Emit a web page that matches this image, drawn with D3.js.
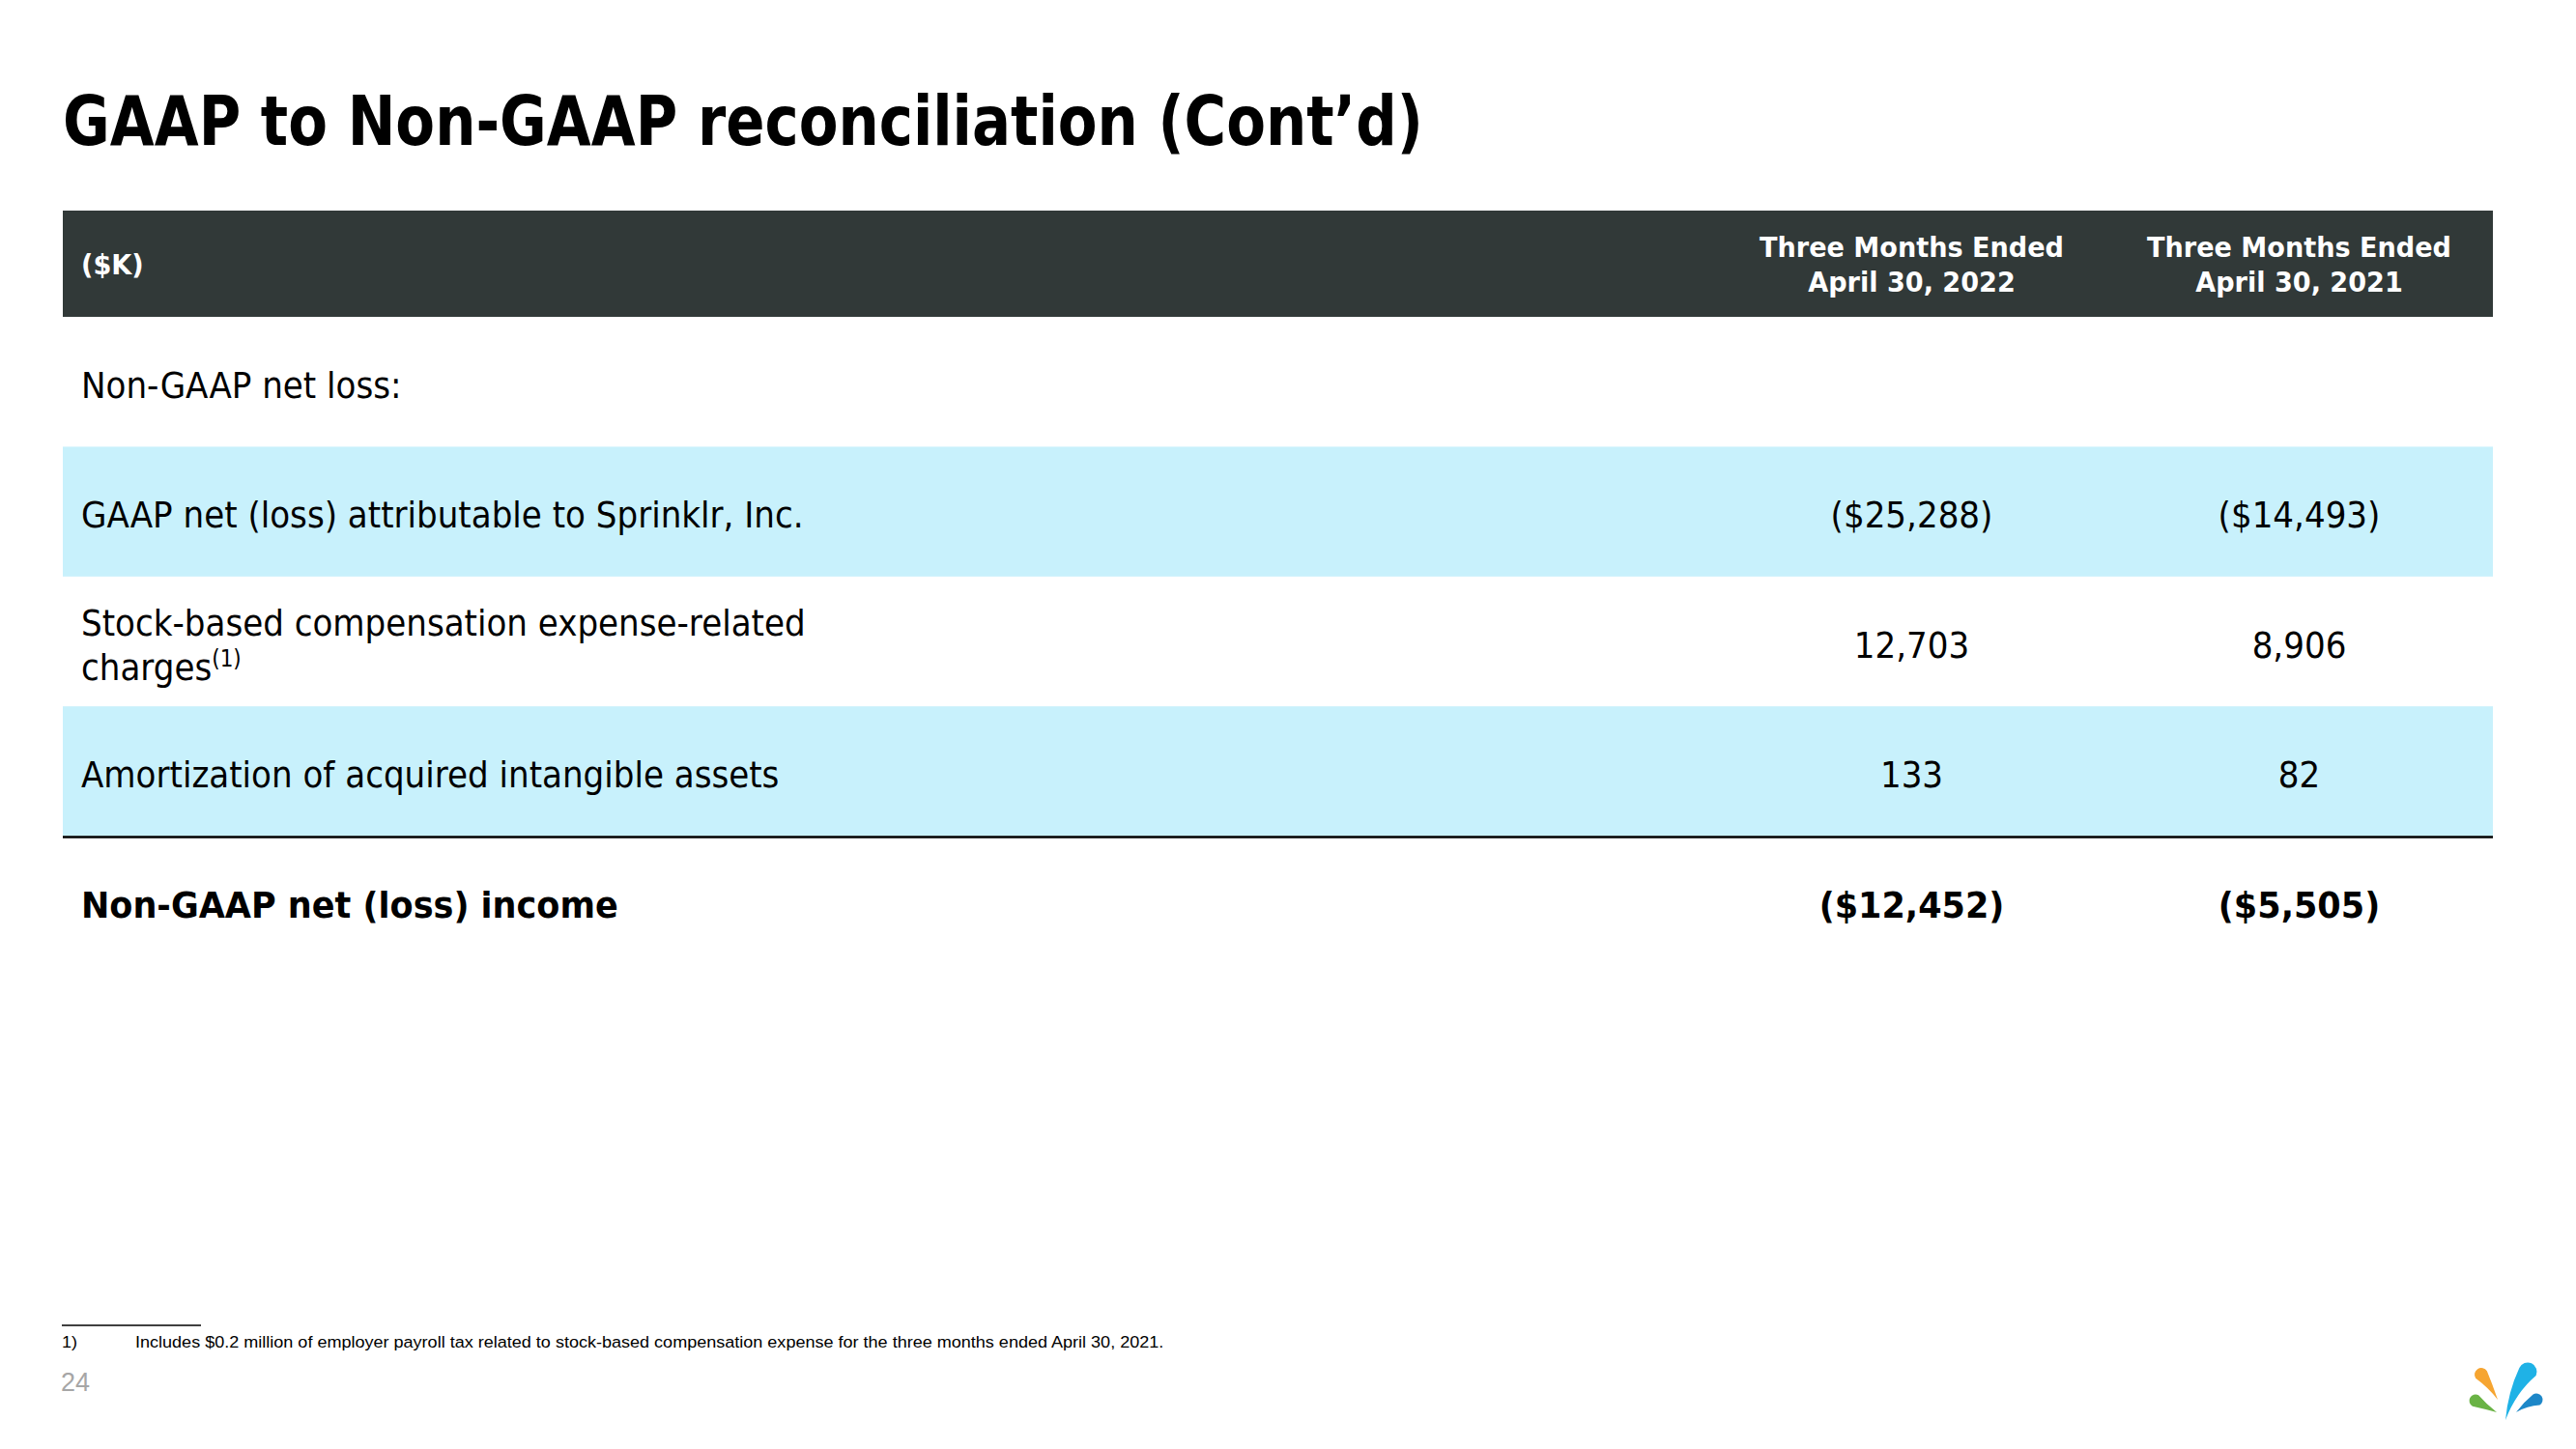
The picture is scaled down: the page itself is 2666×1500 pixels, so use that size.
<!DOCTYPE html>
<html>
<head>
<meta charset="utf-8">
<script src="https://cdn.jsdelivr.net/npm/d3@7"></script>
<style>
html,body{margin:0;padding:0;background:#fff;}
svg{display:block;}
</style>
</head>
<body>
<svg id="chart" width="2666" height="1500"></svg>
<script>
// ---- data ----
const title = "GAAP to Non-GAAP reconciliation (Cont’d)";
const unitLabel = "($K)";
const periods = ["2022", "2021"];
const periodHeaders = [["Three Months Ended", "April 30, 2022"], ["Three Months Ended", "April 30, 2021"]];
const rowLabels = [
  ["Non-GAAP net loss:"],
  ["GAAP net (loss) attributable to Sprinklr, Inc."],
  ["Stock-based compensation expense-related", "charges"],
  ["Amortization of acquired intangible assets"],
  ["Non-GAAP net (loss) income"]
];
const rowSup = [null, null, "(1)", null, null];
const rowShaded = [false, true, false, true, false];
const rowBold = [false, false, false, false, true];
const values2022 = [null, -25288, 12703, 133, -12452];
const values2021 = [null, -14493, 8906, 82, -5505];
const footnoteNum = "1)";
const footnoteText = "Includes $0.2 million of employer payroll tax related to stock-based compensation expense for the three months ended April 30, 2021.";
const pageNumber = "24";

// ---- setup ----
const svg = d3.select("#chart");
svg.append("rect").attr("width", 2666).attr("height", 1500).attr("fill", "#fff");

const FONT = "'DejaVu Sans', Verdana, sans-serif";
const NARROW = "'Liberation Sans Narrow', 'Liberation Sans', Arial, sans-serif";

function measure(text, size, weight, family) {
  const t = svg.append("text").attr("font-family", family).attr("font-size", size)
    .attr("font-weight", weight).text(text);
  const w = t.node().getComputedTextLength();
  t.remove();
  return w;
}
const BODY = 38;
const sqTitle = 1408 / measure(title, 72, "bold", FONT);
const sqBody = 748 / measure(rowLabels[1][0], BODY, "normal", FONT);
const sqBold = 556 / measure(rowLabels[4][0], BODY, "bold", FONT);
const sqHead = 315 / measure(periodHeaders[0][0], 28, "bold", FONT);
const sqFoot = 1065 / measure(footnoteText, 17, "normal", NARROW);

function addText(g, str, x, cy, size, weight, sq, anchor, fill, family, capRatio) {
  const base = cy + (capRatio || 0.365) * size;
  return g.append("text")
    .attr("transform", `translate(${x},${base}) scale(${sq},1)`)
    .attr("font-family", family || FONT)
    .attr("font-size", size)
    .attr("font-weight", weight)
    .attr("text-anchor", anchor || "start")
    .attr("fill", fill || "#000")
    .text(str);
}

// ---- scales ----
const tableLeft = 65, tableRight = 2580;
const y = d3.scaleBand().domain(d3.range(rowLabels.length)).range([328, 1000]).padding(0);
const x = d3.scaleBand().domain(periods).range([1778, 2580]).padding(0);
const labelX = 84;

// title
addText(svg, title, 65, 123.5, 72, "bold", sqTitle, "start", "#000");

// header bar
svg.append("rect").attr("x", tableLeft).attr("y", 218).attr("width", tableRight - tableLeft)
  .attr("height", 110).attr("fill", "#313938");
addText(svg, unitLabel, labelX, 274, 28, "bold", sqHead, "start", "#fff");
periods.forEach((p, i) => {
  const cx = x(p) + x.bandwidth() / 2;
  periodHeaders[i].forEach((line, j) => {
    addText(svg, line, cx, 256 + j * 36, 28, "bold", sqHead, "middle", "#fff");
  });
});

// row backgrounds
svg.append("g").selectAll("rect")
  .data(d3.range(rowLabels.length).filter(i => rowShaded[i]))
  .join("rect")
  .attr("x", tableLeft).attr("width", tableRight - tableLeft)
  .attr("y", i => y(i)).attr("height", y.bandwidth())
  .attr("fill", "#c8f1fc");

// total line
const totalIdx = rowBold.indexOf(true);
svg.append("line").attr("x1", tableLeft).attr("x2", tableRight)
  .attr("y1", y(totalIdx) + 1).attr("y2", y(totalIdx) + 1)
  .attr("stroke", "#000").attr("stroke-width", 2.5);

// labels and values
const fmtNum = d3.format(",");
function fmt(v) {
  if (v == null) return "";
  return v < 0 ? `($${fmtNum(-v)})` : fmtNum(v);
}
const rowsG = svg.append("g");
rowLabels.forEach((lines, i) => {
  const cy = y(i) + y.bandwidth() / 2 + 3;
  const bold = rowBold[i];
  const sq = bold ? sqBold : sqBody;
  const w = bold ? "bold" : "normal";
  const lh = 46;
  lines.forEach((line, j) => {
    const ly = cy + (j - (lines.length - 1) / 2) * lh;
    const t = addText(rowsG, line, labelX, ly, BODY, w, sq, "start", "#000");
    if (j === lines.length - 1 && rowSup[i]) {
      t.append("tspan").attr("font-size", 24).attr("dy", -14).text(rowSup[i]);
    }
  });
  [values2022[i], values2021[i]].forEach((v, k) => {
    if (v == null) return;
    const cx = x(periods[k]) + x.bandwidth() / 2;
    addText(rowsG, fmt(v), cx, cy, BODY, w, sq, "middle", "#000");
  });
});

// footnote
svg.append("line").attr("x1", 64).attr("x2", 208).attr("y1", 1372).attr("y2", 1372)
  .attr("stroke", "#000").attr("stroke-width", 1.3);
addText(svg, footnoteNum, 64, 1389, 17, "normal", sqFoot, "start", "#000", NARROW, 0.358);
addText(svg, footnoteText, 140, 1389, 17, "normal", sqFoot, "start", "#000", NARROW, 0.358);

// page number
addText(svg, pageNumber, 63, 1430, 27, "normal", 1, "start", "#a6a6a6", NARROW, 0.358);

// logo (droplets)
function drop(g, tx, ty, hx, hy, r, bend, color) {
  const dx = hx - tx, dy = hy - ty;
  const L = Math.sqrt(dx * dx + dy * dy);
  const ang = Math.atan2(dy, dx) * 180 / Math.PI;
  const p = d3.path();
  p.moveTo(0, 0);
  p.quadraticCurveTo(L * 0.55, r * 0.2 + bend, L, r);
  p.arc(L, 0, r, Math.PI / 2, -Math.PI / 2, true);
  p.quadraticCurveTo(L * 0.5, -r * 0.6 + bend, 0, 0);
  p.closePath();
  g.append("path").attr("d", p.toString())
    .attr("transform", `translate(${tx},${ty}) rotate(${ang})`)
    .attr("fill", color);
}
const logo = svg.append("g");
drop(logo, 2585, 1449, 2568, 1423, 7, 3, "#f6a531");
drop(logo, 2584, 1462, 2562, 1450, 6.5, 1, "#6ab345");
drop(logo, 2593, 1470, 2616, 1420, 9.5, -4, "#1fb2e6");
drop(logo, 2604, 1462, 2625, 1449, 6.5, -1, "#1d87c8");
</script>
</body>
</html>
